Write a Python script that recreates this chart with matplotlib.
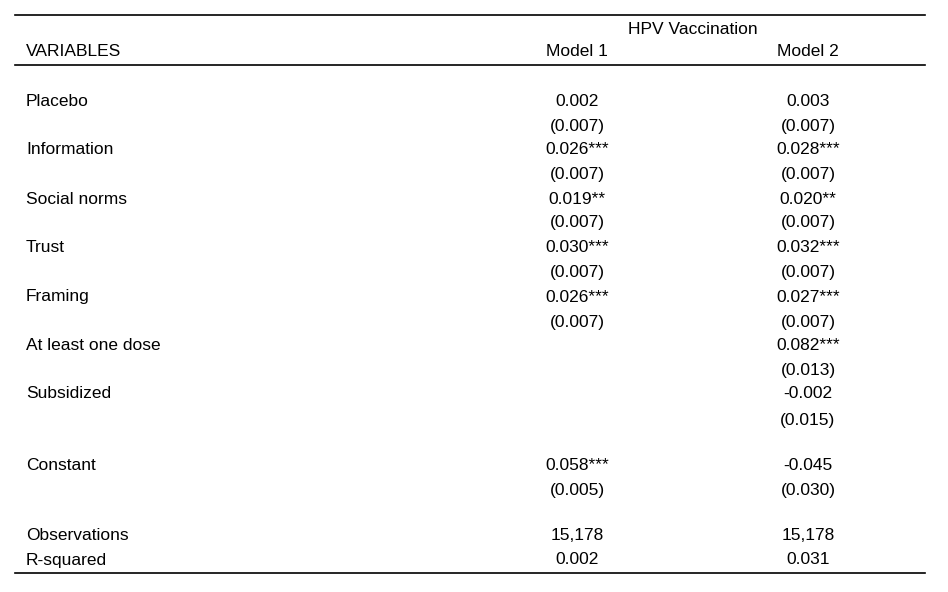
import matplotlib
matplotlib.use("Agg")
import matplotlib.pyplot as plt

variables = ["Placebo", "Information", "Social norms", "Trust", "Framing",
             "At least one dose", "Subsidized", "Constant"]
model1_coef = ["0.002", "0.026***", "0.019**", "0.030***", "0.026***", "", "", "0.058***"]
model1_se = ["(0.007)", "(0.007)", "(0.007)", "(0.007)", "(0.007)", "", "", "(0.005)"]
model2_coef = ["0.003", "0.028***", "0.020**", "0.032***", "0.027***", "0.082***", "-0.002", "-0.045"]
model2_se = ["(0.007)", "(0.007)", "(0.007)", "(0.007)", "(0.007)", "(0.013)", "(0.015)", "(0.030)"]
coef_y = [101, 149, 199, 247, 296, 345, 393, 465]
se_y = [125, 173, 222, 271, 321, 369, 419, 490]
stats = ["Observations", "R-squared"]
stats_m1 = ["15,178", "0.002"]
stats_m2 = ["15,178", "0.031"]
stats_y = [535, 559]

fig = plt.figure(figsize=(9.48, 5.92), dpi=100)
ax = fig.add_axes([0, 0, 1, 1])
ax.set_xlim(0, 948)
ax.set_ylim(592, 0)
ax.axis("off")

fs = 12.5
fam = "Liberation Sans"
kw = dict(fontsize=fs, family=fam, va="center", color="black")
x_lab, x_m1, x_m2 = 26, 577, 808
dy = 1

ax.plot([15, 925], [15, 15], color="black", lw=1.2)
ax.plot([15, 925], [65, 65], color="black", lw=1.2)
ax.plot([15, 925], [573, 573], color="black", lw=1.2)

ax.text(693, 28 + dy, "HPV Vaccination", ha="center", **kw)
ax.text(x_lab, 51 + dy, "VARIABLES", ha="left", **kw)
ax.text(x_m1, 51 + dy, "Model 1", ha="center", **kw)
ax.text(x_m2, 51 + dy, "Model 2", ha="center", **kw)

for v, c1, s1, c2, s2, yc, ys in zip(variables, model1_coef, model1_se,
                                       model2_coef, model2_se, coef_y, se_y):
    ax.text(x_lab, yc + dy, v, ha="left", **kw)
    ax.text(x_m1, yc + dy, c1, ha="center", **kw)
    ax.text(x_m1, ys + dy, s1, ha="center", **kw)
    ax.text(x_m2, yc + dy, c2, ha="center", **kw)
    ax.text(x_m2, ys + dy, s2, ha="center", **kw)

for s, a, b, y in zip(stats, stats_m1, stats_m2, stats_y):
    ax.text(x_lab, y + dy, s, ha="left", **kw)
    ax.text(x_m1, y + dy, a, ha="center", **kw)
    ax.text(x_m2, y + dy, b, ha="center", **kw)

fig.savefig("out.png", dpi=100, facecolor="white")
